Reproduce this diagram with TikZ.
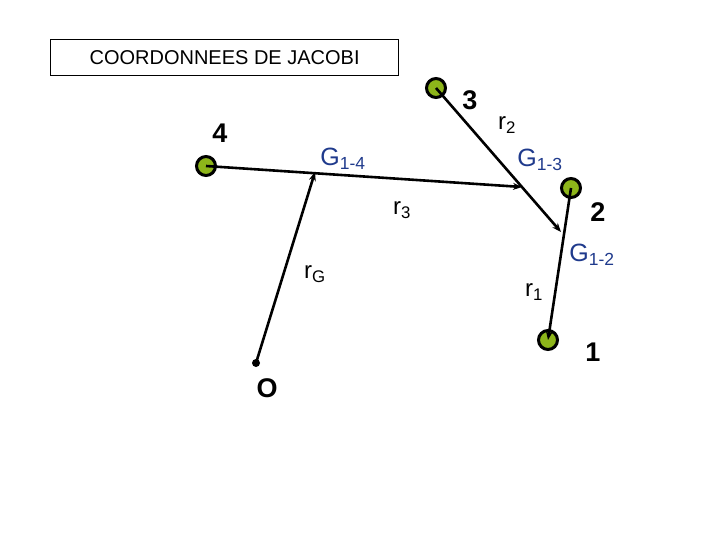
\documentclass[tikz,border=0pt]{standalone}
\usepackage{fontspec}
\setmainfont{Liberation Sans}
\usetikzlibrary{arrows.meta}
\definecolor{ball}{HTML}{8DB51A}
\definecolor{gblue}{HTML}{1F3A8C}
\begin{document}
\begin{tikzpicture}[x=1pt,y=-1pt,
  part/.style={circle,fill=ball,draw=black,line width=3pt,minimum size=19pt,inner sep=0pt},
  vec/.style={line width=2.6pt,-{Stealth[length=9pt,width=7pt]}},
  num/.style={font=\bfseries\fontsize{27}{30}\selectfont},
  gl/.style={text=gblue,font=\fontsize{25}{28}\selectfont},
  rl/.style={font=\fontsize{24}{26}\selectfont}]
\useasboundingbox (0,0) rectangle (720,540);
\node[draw,line width=1.2pt,minimum width=348pt,minimum height=36pt,anchor=north west,font=\fontsize{20}{22}\selectfont] (title) at (50,39) {COORDONNEES DE JACOBI};
\node[part] (p3) at (436,88) {};
\node[part] (p4) at (206,166) {};
\node[part] (p2) at (571,188) {};
\node[part] (p1) at (548,340) {};
\coordinate (O) at (256,363);
\fill (O) circle (4pt);
\coordinate (g12) at (561,232);
\coordinate (g13) at (522,187);
\coordinate (g14) at (315,172);
\draw[vec] (p2.center) -- (p1.center);
\draw[vec] (p3.center) -- (g12);
\draw[vec] (p4.center) -- (g13);
\draw[vec] (O) -- (g14);
\node[num] (l3) at (470,100) {3};
\node[num] (l4) at (220,133) {4};
\node[num] (l2) at (598,212) {2};
\node[num] (l1) at (593,352) {1};
\node[num] (lO) at (267,388) {O};
\node[rl] (r2) at (507,125) {r\textsubscript{2}};
\node[rl] (r3) at (402,210) {r\textsubscript{3}};
\node[rl] (rG) at (315,274) {r\textsubscript{G}};
\node[rl] (r1) at (534,292) {r\textsubscript{1}};
\node[gl] (G14) at (343,159) {G\textsubscript{1-4}};
\node[gl] (G13) at (540,160) {G\textsubscript{1-3}};
\node[gl] (G12) at (592,255) {G\textsubscript{1-2}};
\end{tikzpicture}
\end{document}
